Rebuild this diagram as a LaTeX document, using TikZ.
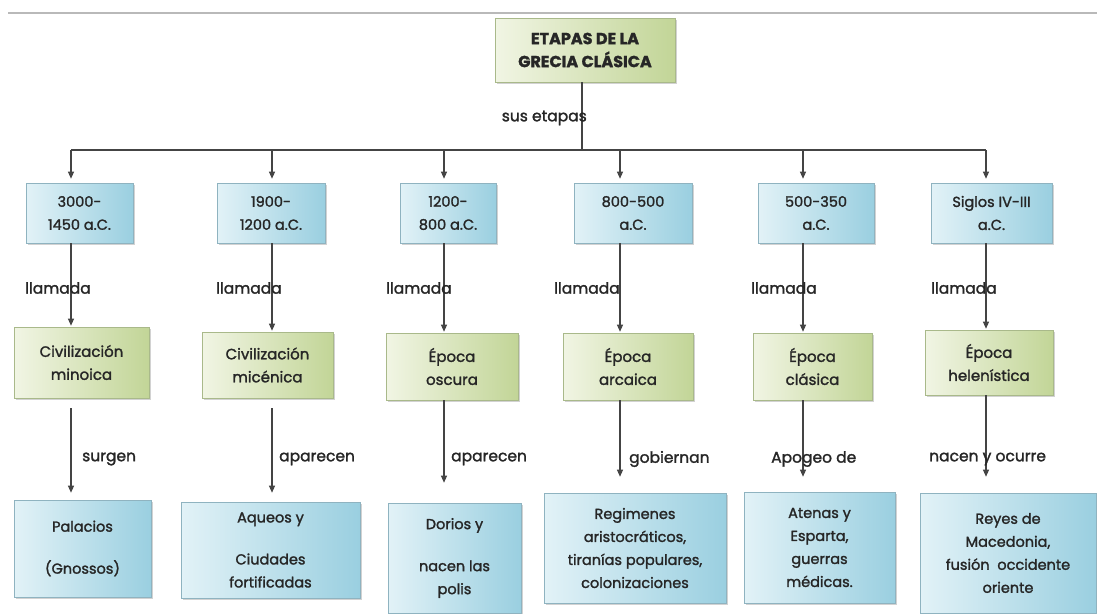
\documentclass[tikz,border=0pt]{standalone}
\usepackage{fontspec}
\setmainfont{Poppins}[FakeBold=1.6]
\usetikzlibrary{arrows.meta,shadows}
\definecolor{txt}{HTML}{262626}
\definecolor{ln}{HTML}{444444}
\definecolor{bluA}{HTML}{E2F2F7}
\definecolor{bluB}{HTML}{9ACFE0}
\definecolor{bluD}{HTML}{8FB3C0}
\definecolor{grnA}{HTML}{F1F5E4}
\definecolor{grnB}{HTML}{C2D597}
\definecolor{grnD}{HTML}{A9B98A}
\tikzset{
  shad/.style={drop shadow={shadow xshift=1.5pt,shadow yshift=-1.8pt,opacity=0.35,fill=gray}},
  bluebox/.style={shad,draw=bluD,line width=0.6pt,left color=bluA,right color=bluB,
    text=txt,align=center,inner sep=2pt,font=\fontsize{14.5}{23}\selectfont},
  greenbox/.style={shad,draw=grnD,line width=0.6pt,left color=grnA,right color=grnB,
    text=txt,align=center,inner sep=2pt,font=\fontsize{15}{23}\selectfont},
  lbl/.style={text=txt,inner sep=0pt,font=\fontsize{15.5}{17}\selectfont},
  conn/.style={draw=ln,line width=1.1pt},
  arr/.style={conn,-{Triangle[length=7pt,width=6pt]}}
}
\begin{document}
\begin{tikzpicture}[x=1pt,y=-1pt]
\useasboundingbox (0,0) rectangle (1097,613);
\fill[white] (0,0) rectangle (1097,613);
% top rule of the page
\coordinate (rl) at (8,13);
\coordinate (rr) at (1097,13);
\draw[gray!55,line width=1.2pt] (rl) -- (rr);

% title
\node[greenbox,minimum width=180pt,minimum height=64pt,font=\fontsize{16}{23}\selectfont\bfseries] (title) at (585,50) {ETAPAS DE LA\\GRECIA CLÁSICA};

% bar tap points
\coordinate (tc) at (582,150);
\coordinate (t1) at (71,150);
\coordinate (t2) at (272,150);
\coordinate (t3) at (444,150);
\coordinate (t4) at (620,150);
\coordinate (t5) at (803,150);
\coordinate (t6) at (986,150);

% row 1
\node[bluebox,minimum width=107pt,minimum height=60pt] (c1) at (79.5,213) {3000-\\1450 a.C.};
\node[bluebox,minimum width=108pt,minimum height=60pt] (c2) at (271,213) {1900-\\1200 a.C.};
\node[bluebox,minimum width=96pt,minimum height=60pt] (c3) at (448,213) {1200-\\800 a.C.};
\node[bluebox,minimum width=118pt,minimum height=60pt] (c4) at (633,213) {800-500\\a.C.};
\node[bluebox,minimum width=116pt,minimum height=60pt] (c5) at (816,213) {500-350\\a.C.};
\node[bluebox,minimum width=121pt,minimum height=60pt] (c6) at (991.5,213) {Siglos IV-III\\a.C.};

% row 2
\node[greenbox,minimum width=135pt,minimum height=71pt] (b1) at (81.5,362.5) {Civilización\\minoica};
\node[greenbox,minimum width=131pt,minimum height=66pt] (b2) at (267.5,365) {Civilización\\micénica};
\node[greenbox,minimum width=132pt,minimum height=67pt] (b3) at (452,366.5) {Época\\oscura};
\node[greenbox,minimum width=130pt,minimum height=67pt] (b4) at (628,366.5) {Época\\arcaica};
\node[greenbox,minimum width=119pt,minimum height=67pt] (b5) at (812.5,366.5) {Época\\clásica};
\node[greenbox,minimum width=128pt,minimum height=65pt] (b6) at (989,362.5) {Época\\helenística};

% row 3
\node[bluebox,minimum width=137pt,minimum height=97pt] (d1) at (82.5,548.5) {Palacios\\[19pt](Gnossos)};
\node[bluebox,minimum width=179pt,minimum height=96pt] (d2) at (270.5,550) {Aqueos y\\[19pt]Ciudades\\fortificadas};
\node[bluebox,minimum width=133pt,minimum height=110pt] (d3) at (454.5,558) {Dorios y\\[19pt]nacen las\\polis};
\node[bluebox,minimum width=182pt,minimum height=110pt] (d4) at (635,548) {Regimenes\\aristocráticos,\\tiranías populares,\\colonizaciones};
\node[bluebox,minimum width=151pt,minimum height=111pt] (d5) at (819.5,547.5) {Atenas y\\Esparta,\\guerras\\médicas.};
\node[bluebox,minimum width=176pt,minimum height=120pt] (d6) at (1008,553) {Reyes de\\Macedonia,\\fusión\ \ occidente\\oriente};

% title to bar
\draw[conn] (title.south -| tc) -- (tc);
\draw[conn] (t1) -- (t6);
\node[lbl,anchor=east] (sus) at (587,118) {sus etapas};

% bar to row 1
\foreach \i in {1,...,6}{
  \draw[arr,shorten >=4pt] (t\i) -- (c\i.north -| t\i);
}

% row 1 to row 2
\foreach \i in {1,...,6}{
  \draw[arr,shorten >=1pt] (c\i.south -| t\i) -- (b\i.north -| t\i);
}
\node[lbl,anchor=west] (l1) at (25,288) {llamada};
\node[lbl,anchor=west] (l2) at (216,288) {llamada};
\node[lbl,anchor=west] (l3) at (386,288) {llamada};
\node[lbl,anchor=west] (l4) at (554,288) {llamada};
\node[lbl,anchor=west] (l5) at (751,288) {llamada};
\node[lbl,anchor=west] (l6) at (931,288) {llamada};

% row 2 to row 3
\draw[arr,shorten <=10pt,shorten >=7pt] (b1.south -| t1) -- (d1.north -| t1);
\draw[arr,shorten <=10pt,shorten >=9pt] (b2.south -| t2) -- (d2.north -| t2);
\draw[arr,shorten >=20pt] (b3.south -| t3) -- (d3.north -| t3);
\draw[arr,shorten >=16pt] (b4.south -| t4) -- (d4.north -| t4);
\draw[arr,shorten >=15pt] (b5.south -| t5) -- (d5.north -| t5);
\draw[arr,shorten >=16pt] (b6.south -| t6) -- (d6.north -| t6);
\node[lbl,anchor=west] (m1) at (82,459) {surgen};
\node[lbl,anchor=west] (m2) at (279,459) {aparecen};
\node[lbl,anchor=west] (m3) at (451,459) {aparecen};
\node[lbl,anchor=west] (m4) at (629,459) {gobiernan};
\node[lbl,anchor=west] (m5) at (771,459) {Apogeo de};
\node[lbl,anchor=west] (m6) at (929,459) {nacen y ocurre};
\end{tikzpicture}
\end{document}
